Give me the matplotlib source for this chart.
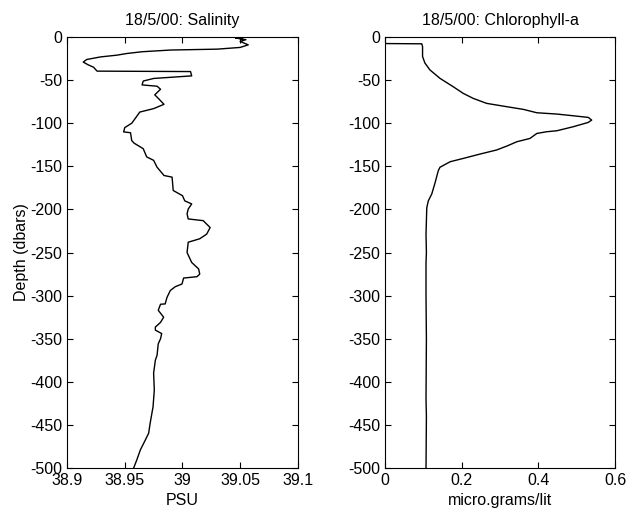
import matplotlib
matplotlib.use('Agg')
import matplotlib.pyplot as plt

plt.rcParams['font.family'] = ['Liberation Sans', 'DejaVu Sans']
plt.rcParams['font.size'] = 11.5
plt.rcParams['axes.unicode_minus'] = False

# Salinity profile (depth in dbars, PSU)
sal_depth = [0, -2, -1, -3, -5, -9, -12, -14, -15, -17, -19, -21, -23, -26, -29, -32,
             -35, -39.5, -40, -45, -48, -51, -55.5, -57, -60.5, -67, -71, -78, -83, -87,
             -94.5, -100, -105, -110, -111, -120, -123, -129.5, -139, -143, -151, -160.6,
             -162.5, -178, -184, -190, -193.6, -199.5, -205, -211, -213, -221, -228.6,
             -234, -238, -250, -261.5, -269, -275, -278, -279.6, -286.5, -289.6, -294,
             -302, -309.6, -310, -317, -325, -331, -336.5, -340, -344, -350, -356, -369,
             -375, -390, -409.6, -429, -448, -459.6, -467, -479, -490, -500]
sal_psu = [39.045, 39.052, 39.046, 39.055, 39.050, 39.057, 39.050, 39.030, 38.990, 38.965,
           38.952, 38.943, 38.929, 38.917, 38.914, 38.918, 38.923, 38.926, 39.007, 39.008,
           38.975, 38.966, 38.965, 38.978, 38.981, 38.976, 38.979, 38.984, 38.975, 38.963,
           38.959, 38.956, 38.950, 38.949, 38.955, 38.956, 38.958, 38.966, 38.969, 38.975,
           38.978, 38.984, 38.991, 38.992, 39.000, 39.002, 39.008, 39.005, 39.004, 39.005,
           39.018, 39.024, 39.021, 39.015, 39.005, 39.004, 39.008, 39.014, 39.015, 39.0126,
           39.001, 38.9996, 38.9938, 38.9895, 38.9866, 38.985, 38.981, 38.979, 38.9837,
           38.981, 38.9765, 38.9765, 38.982, 38.981, 38.979, 38.978, 38.9765, 38.975,
           38.9756, 38.9745, 38.972, 38.9707, 38.968, 38.9635, 38.9606, 38.9577]

# Chlorophyll-a profile (depth in dbars, micro.grams/lit)
chl_depth = [-7.5, -7.8, -11, -22.5, -30, -38, -47.9, -57.6, -65.3, -71.1, -76.9, -80.8,
             -83.9, -87.8, -89.3, -91.3, -93.2, -96.3, -99, -104, -108.7, -109.8, -111.8,
             -117.6, -121.4, -126.4, -131, -135.7, -140.8, -144.6, -151, -155, -170, -182,
             -190, -198, -229, -250, -262, -300, -350, -420, -440, -500]
chl_val = [0.0, 0.096, 0.098, 0.098, 0.104, 0.117, 0.1435, 0.178, 0.204, 0.230, 0.265,
           0.318, 0.361, 0.396, 0.448, 0.491, 0.530, 0.539, 0.530, 0.491, 0.448, 0.422,
           0.396, 0.378, 0.344, 0.318, 0.291, 0.248, 0.204, 0.170, 0.1435, 0.139, 0.130,
           0.122, 0.113, 0.109, 0.107, 0.108, 0.107, 0.107, 0.108, 0.107, 0.108, 0.107]

fig = plt.figure(figsize=(6.27, 5.13), dpi=100)
ax1 = fig.add_axes([0.107, 0.0877, 0.368, 0.840])
ax2 = fig.add_axes([0.614, 0.0877, 0.367, 0.840])

ax1.plot(sal_psu, sal_depth, color='k', lw=1.0)
ax1.set_xlim(38.9, 39.1)
ax1.set_xticks([38.9, 38.95, 39.0, 39.05, 39.1])
ax1.set_xticklabels(['38.9', '38.95', '39', '39.05', '39.1'])
ax1.set_title('18/5/00: Salinity', fontsize=11.5, pad=9)
ax1.set_xlabel('PSU', labelpad=4)
ax1.set_ylabel('Depth (dbars)', labelpad=1)

ax2.plot(chl_val, chl_depth, color='k', lw=1.0)
ax2.set_xlim(0, 0.6)
ax2.set_xticks([0, 0.2, 0.4, 0.6])
ax2.set_xticklabels(['0', '0.2', '0.4', '0.6'])
ax2.set_title('18/5/00: Chlorophyll-a', fontsize=11.5, pad=9)
ax2.set_xlabel('micro.grams/lit', labelpad=4)

for ax in (ax1, ax2):
    ax.set_ylim(-500, 0)
    ax.set_yticks(range(-500, 1, 50))
    ax.tick_params(direction='in', top=True, right=True, length=4, width=0.8, labelsize=11.5)
    for s in ax.spines.values():
        s.set_linewidth(0.8)

fig.savefig('out.png', dpi=100)
